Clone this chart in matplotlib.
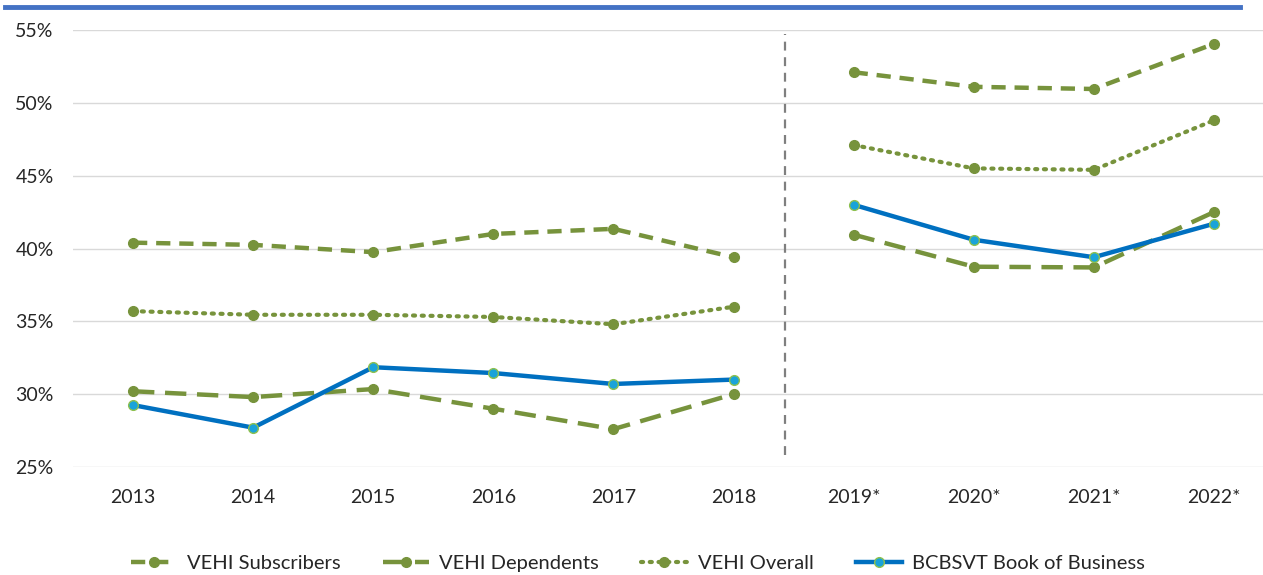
import matplotlib
matplotlib.use("Agg")
import matplotlib.pyplot as plt
from matplotlib.ticker import FuncFormatter

categories = ["2013", "2014", "2015", "2016", "2017", "2018", "2019*", "2020*", "2021*", "2022*"]
subscribers = [40.4, 40.25, 39.75, 41.0, 41.35, 39.4, 52.1, 51.1, 50.95, 54.05]
dependents = [30.2, 29.8, 30.35, 29.0, 27.6, 30.0, 40.95, 38.75, 38.7, 42.5]
overall = [35.7, 35.45, 35.45, 35.3, 34.8, 36.0, 47.1, 45.5, 45.4, 48.8]
bcbsvt = [29.25, 27.7, 31.85, 31.45, 30.7, 31.0, 43.0, 40.6, 39.4, 41.7]
series_names = ["VEHI Subscribers", "VEHI Dependents", "VEHI Overall", "BCBSVT Book of Business"]
yticks = [25, 30, 35, 40, 45, 50, 55]

plt.rcParams['font.family'] = ['Lato', 'DejaVu Sans']

fig = plt.figure(figsize=(12.63, 5.75), dpi=100)
ax = fig.add_axes([73/1263, 1-467/575, 1201/1263, 437/575])

green = "#77933C"
blue = "#0070C0"
x = list(range(len(categories)))
segs = [(0, 6), (6, 10)]

styles = [
    (subscribers, dict(color=green, lw=3.2, dashes=(3.2, 2.0), marker='o', ms=7, mfc=green, mec=green)),
    (dependents, dict(color=green, lw=3.2, dashes=(4.8, 2.4), marker='o', ms=7, mfc=green, mec=green)),
    (overall, dict(color=green, lw=3.0, dashes=(0.5, 1.6), dash_capstyle='round', marker='o', ms=7, mfc=green, mec=green)),
    (bcbsvt, dict(color=blue, lw=3.2, marker='o', ms=7, mfc="#1AA3D9", mec="#8DC04E", mew=1.0)),
]
handles = []
for (vals, kw), name in zip(styles, series_names):
    for i, (a, b) in enumerate(segs):
        ln, = ax.plot(x[a:b], vals[a:b], label=name if i == 0 else None, zorder=3, **kw)
        if i == 0:
            handles.append(ln)

ax.plot([5.43, 5.43], [25.8, 54.7], color="#7F7F7F", lw=1.6, ls=(0, (4, 3)), zorder=2)

ax.set_xlim(-0.5, 9.5)
ax.set_ylim(25, 55)
ax.set_yticks(yticks)
ax.yaxis.set_major_formatter(FuncFormatter(lambda v, p: f"{v:.0f}%"))
ax.set_xticks(x)
ax.set_xticklabels(categories)
ax.grid(axis='y', color="#D9D9D9", lw=1.0, zorder=0)
for s in ax.spines.values():
    s.set_visible(False)
ax.tick_params(axis='both', length=0, labelsize=14, colors="#262626")
ax.tick_params(axis='y', pad=14)
ax.tick_params(axis='x', pad=16)

fig.add_artist(plt.Line2D([5/1263, 1240/1263], [1-7/575, 1-7/575], color="#4472C4", lw=3.5))

fig.legend(handles=handles, labels=series_names, loc='center', ncol=4,
           bbox_to_anchor=(0.505, 1-563/575), frameon=False, fontsize=14.5,
           handlelength=2.3, columnspacing=2.1, handletextpad=0.5, labelcolor="#262626")

fig.savefig("out.png", dpi=100)
